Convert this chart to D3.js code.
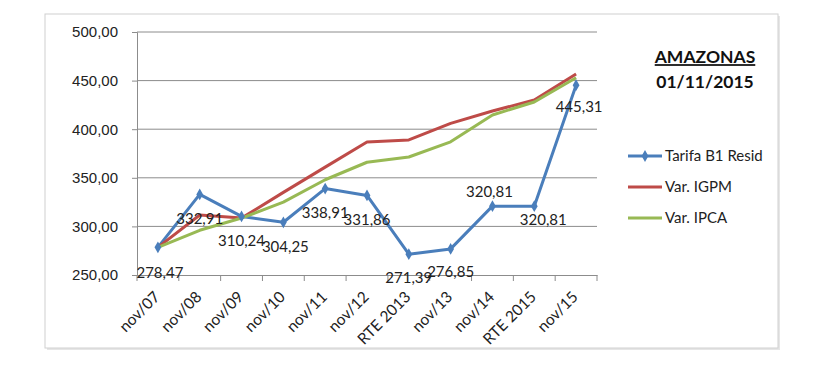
<!DOCTYPE html>
<html>
<head>
<meta charset="utf-8">
<script src="https://cdn.jsdelivr.net/npm/d3@7"></script>
<style>
  body { margin: 0; background: #fff; }
  svg { font-family: Lato, "Liberation Sans", sans-serif; }
</style>
</head>
<body>
<svg id="chart" width="822" height="373"></svg>
<script>
const categories = ['nov/07', 'nov/08', 'nov/09', 'nov/10', 'nov/11', 'nov/12',
  'RTE 2013', 'nov/13', 'nov/14', 'RTE 2015', 'nov/15'];
const tarifa = [278.47, 332.91, 310.24, 304.25, 338.91, 331.86, 271.39, 276.85, 320.81, 320.81, 445.31];
const igpm = [278.47, 311.7, 308.6, 335, 361, 386.8, 389, 406, 418.7, 430, 456.8];
const ipca = [278.47, 296, 308.6, 325, 348, 366, 371.4, 387, 414.6, 428, 453];
const yTicks = [250, 300, 350, 400, 450, 500];
const seriesNames = ['Tarifa B1 Resid', 'Var. IGPM', 'Var. IPCA'];
const title = ['AMAZONAS', '01/11/2015'];

const colors = ['#4a7ebb', '#be4b48', '#98b954'];
const fmt = v => v.toFixed(2).replace('.', ',');

const svg = d3.select('#chart');

// chart frame with soft shadow
svg.append('rect').attr('x', 47).attr('y', 16).attr('width', 733).attr('height', 334)
  .attr('fill', '#e6e6e6');
svg.append('rect').attr('x', 45).attr('y', 14).attr('width', 733).attr('height', 334)
  .attr('fill', '#fff').attr('stroke', '#d0d0d0');

const x = d3.scaleBand().domain(categories).range([137, 597]);
const y = d3.scaleLinear().domain([250, 500]).range([275, 32]);
const cx = d => x(d) + x.bandwidth() / 2;

// gridlines
svg.append('g').selectAll('line').data(yTicks.slice(1)).enter().append('line')
  .attr('x1', 137).attr('x2', 597)
  .attr('y1', d => y(d)).attr('y2', d => y(d))
  .attr('stroke', '#8c8c8c').attr('stroke-width', 1);

// y axis
const yAxis = svg.append('g').attr('transform', 'translate(137,0)')
  .call(d3.axisLeft(y).tickValues(yTicks).tickFormat(fmt).tickSize(5).tickPadding(14));
yAxis.select('.domain').attr('stroke', '#8c8c8c');
yAxis.selectAll('.tick line').attr('stroke', '#8c8c8c');
yAxis.selectAll('text').style('font-size', '15px').attr('fill', '#222');

// x axis
const xAxis = svg.append('g').attr('transform', 'translate(0,275)')
  .call(d3.axisBottom(x).tickSize(0).tickFormat(''));
xAxis.select('.domain').attr('stroke', '#8c8c8c');
svg.append('g').selectAll('line').data(categories.concat(['end'])).enter().append('line')
  .attr('x1', (d, i) => i < categories.length ? x(d) : 597)
  .attr('x2', (d, i) => i < categories.length ? x(d) : 597)
  .attr('y1', 275).attr('y2', 281)
  .attr('stroke', '#8c8c8c');
svg.append('g').selectAll('text').data(categories).enter().append('text')
  .attr('transform', d => `translate(${cx(d) - 1},${294}) rotate(-45)`)
  .attr('text-anchor', 'end')
  .attr('dy', '0.35em')
  .style('font-size', '15.5px')
  .attr('fill', '#222')
  .text(d => d);

// lines
const line = d3.line().x((d, i) => cx(categories[i])).y(d => y(d));
[tarifa, igpm, ipca].forEach((s, k) => {
  svg.append('path').datum(s)
    .attr('d', line)
    .attr('fill', 'none')
    .attr('stroke', colors[k])
    .attr('stroke-width', 3)
    .attr('stroke-linejoin', 'round');
});

// diamond markers on tarifa
const diamond = d3.symbol().type(d3.symbolDiamond).size(40);
svg.append('g').selectAll('path').data(tarifa).enter().append('path')
  .attr('d', diamond)
  .attr('transform', (d, i) => `translate(${cx(categories[i])},${y(d)})`)
  .attr('fill', colors[0]);

// data labels (offset from point)
const labelDx = [2, 0, 0, 2, 0, 0, 0, 0, -3, 9, 3];
const labelDy = [25, 24, 24, 24, 24, 24, 24, 23, -14, 14, 22];
svg.append('g').selectAll('text').data(tarifa).enter().append('text')
  .attr('x', (d, i) => cx(categories[i]) + labelDx[i])
  .attr('y', (d, i) => y(d) + labelDy[i])
  .attr('dy', '0.35em')
  .attr('text-anchor', 'middle')
  .style('font-size', '15px')
  .attr('fill', '#222')
  .text(fmt);

// legend
const legend = svg.append('g').selectAll('g').data(seriesNames).enter().append('g')
  .attr('transform', (d, i) => `translate(628,${156 + i * 31})`);
legend.append('line').attr('x1', 0).attr('x2', 34).attr('y1', 0).attr('y2', 0)
  .attr('stroke', (d, i) => colors[i]).attr('stroke-width', 3);
legend.filter((d, i) => i === 0).append('path')
  .attr('d', diamond).attr('transform', 'translate(17,0)').attr('fill', colors[0]);
legend.append('text').attr('x', 37).attr('dy', '0.35em')
  .style('font-size', '15px').attr('fill', '#222')
  .text(d => d);

// title
svg.append('g').selectAll('text').data(title).enter().append('text')
  .attr('x', 705).attr('y', (d, i) => 57 + i * 25)
  .attr('dy', '0.35em')
  .attr('text-anchor', 'middle')
  .style('font-size', '17.5px').style('font-weight', 'bold')
  .style('text-decoration', (d, i) => i === 0 ? 'underline' : 'none')
  .attr('fill', '#111')
  .text(d => d);
</script>
</body>
</html>
